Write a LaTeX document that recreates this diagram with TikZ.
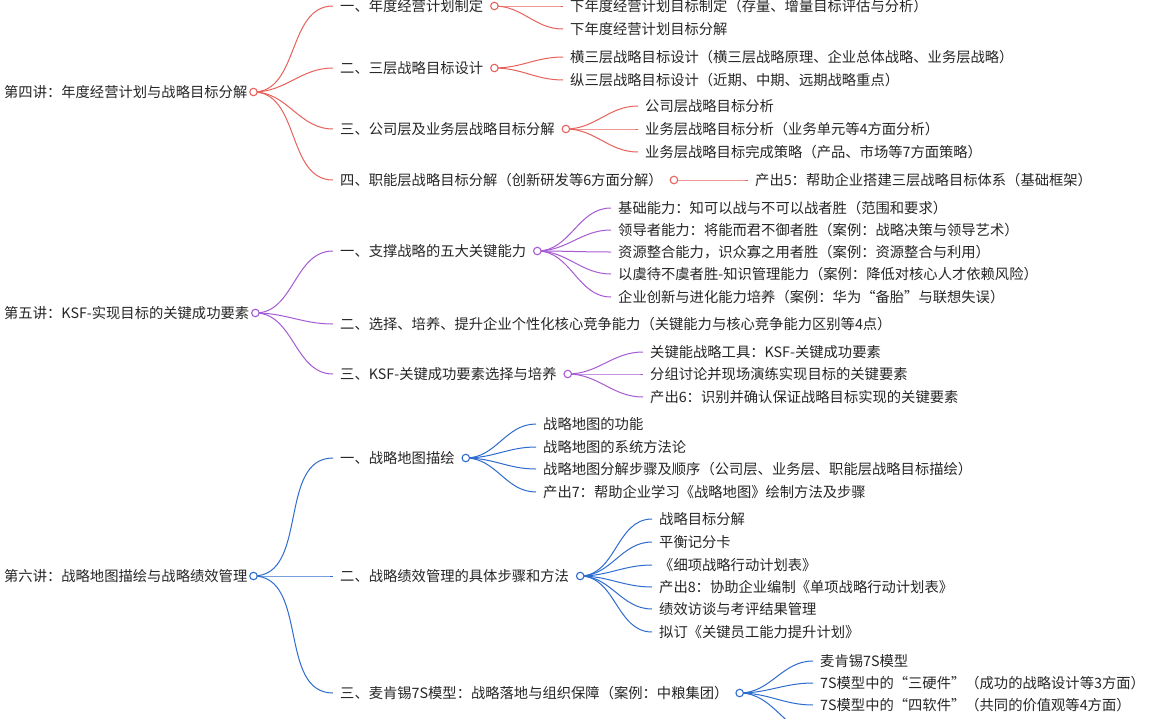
\documentclass[tikz,border=0pt]{standalone}
\usepackage{fontspec}
\setmainfont{Noto Sans CJK SC}
\begin{document}
\begin{tikzpicture}[x=1pt,y=-1pt,
  txt/.style={anchor=west,inner xsep=7pt,inner ysep=1pt,font=\fontsize{14.3pt}{15pt}\selectfont,text=black!85},
  dot/.style={circle,draw,line width=1.1pt,fill=white,inner sep=0pt,minimum size=7.5pt},
  ln/.style={line width=1pt}]
\definecolor{cr}{HTML}{E8625C}
\definecolor{cp}{HTML}{A65BD2}
\definecolor{cb}{HTML}{2F6CD0}
\clip (0,0) rectangle (1159,718);
\fill[white] (0,0) rectangle (1159,718);
\newcommand\E[3]{\draw[ln,#1] ([xshift=4pt]#2.east) to[out=0,in=180] (#3.west);}
\newcommand\D[2]{\node[dot,draw=#1] at ([xshift=4pt]#2.east) {};}
% ===== red
\node[txt,inner xsep=2pt] (r) at (2,92) {第四讲：年度经营计划与战略目标分解};
\node[txt] (r1) at (333,6) {一、年度经营计划制定};
\node[txt] (r2) at (333,68) {二、三层战略目标设计};
\node[txt] (r3) at (333,129) {三、公司层及业务层战略目标分解};
\node[txt] (r4) at (333,180) {四、职能层战略目标分解（创新研发等6方面分解）};
\node[txt] (r11) at (563,6) {下年度经营计划目标制定（存量、增量目标评估与分析）};
\node[txt] (r12) at (563,29) {下年度经营计划目标分解};
\node[txt] (r21) at (563,57) {横三层战略目标设计（横三层战略原理、企业总体战略、业务层战略）};
\node[txt] (r22) at (563,80) {纵三层战略目标设计（近期、中期、远期战略重点）};
\node[txt] (r31) at (638,106) {公司层战略目标分析};
\node[txt] (r32) at (638,129) {业务层战略目标分析（业务单元等4方面分析）};
\node[txt] (r33) at (638,152) {业务层战略目标完成策略（产品、市场等7方面策略）};
\node[txt] (r41) at (748,180) {产出5：帮助企业搭建三层战略目标体系（基础框架）};
\foreach \a in {r1,r2,r3,r4} {\E{cr}{r}{\a}}
\E{cr}{r1}{r11}\E{cr}{r1}{r12}\E{cr}{r2}{r21}\E{cr}{r2}{r22}
\E{cr}{r3}{r31}\E{cr}{r3}{r32}\E{cr}{r3}{r33}\E{cr}{r4}{r41}
\foreach \a in {r,r1,r2,r3,r4} {\D{cr}{\a}}
% ===== purple
\node[txt,inner xsep=2pt] (p) at (2,313) {第五讲：KSF-实现目标的关键成功要素};
\node[txt] (p1) at (333,251) {一、支撑战略的五大关键能力};
\node[txt] (p2) at (333,324) {二、选择、培养、提升企业个性化核心竞争能力（关键能力与核心竞争能力区别等4点）};
\node[txt] (p3) at (333,374) {三、KSF-关键成功要素选择与培养};
\node[txt] (p11) at (611,208) {基础能力：知可以战与不可以战者胜（范围和要求）};
\node[txt] (p12) at (611,230) {领导者能力：将能而君不御者胜（案例：战略决策与领导艺术）};
\node[txt] (p13) at (611,252) {资源整合能力，识众寡之用者胜（案例：资源整合与利用）};
\node[txt] (p14) at (611,274) {以虞待不虞者胜-知识管理能力（案例：降低对核心人才依赖风险）};
\node[txt] (p15) at (611,297) {企业创新与进化能力培养（案例：华为“备胎”与联想失误）};
\node[txt] (p31) at (643,352) {关键能战略工具：KSF-关键成功要素};
\node[txt] (p32) at (643,374) {分组讨论并现场演练实现目标的关键要素};
\node[txt] (p33) at (643,397) {产出6：识别并确认保证战略目标实现的关键要素};
\foreach \a in {p1,p2,p3} {\E{cp}{p}{\a}}
\foreach \a in {p11,p12,p13,p14,p15} {\E{cp}{p1}{\a}}
\foreach \a in {p31,p32,p33} {\E{cp}{p3}{\a}}
\foreach \a in {p,p1,p3} {\D{cp}{\a}}
% ===== blue
\node[txt,inner xsep=2pt] (b) at (2,576) {第六讲：战略地图描绘与战略绩效管理};
\node[txt] (b1) at (333,458) {一、战略地图描绘};
\node[txt] (b2) at (333,576) {二、战略绩效管理的具体步骤和方法};
\node[txt] (b3) at (333,693) {三、麦肯锡7S模型：战略落地与组织保障（案例：中粮集团）};
\node[txt] (b11) at (536,424) {战略地图的功能};
\node[txt] (b12) at (536,447) {战略地图的系统方法论};
\node[txt] (b13) at (536,469) {战略地图分解步骤及顺序（公司层、业务层、职能层战略目标描绘）};
\node[txt] (b14) at (536,492) {产出7：帮助企业学习《战略地图》绘制方法及步骤};
\node[txt] (b21) at (652,519) {战略目标分解};
\node[txt] (b22) at (652,542) {平衡记分卡};
\node[txt] (b23) at (652,565) {《细项战略行动计划表》};
\node[txt] (b24) at (652,587) {产出8：协助企业编制《单项战略行动计划表》};
\node[txt] (b25) at (652,609) {绩效访谈与考评结果管理};
\node[txt] (b26) at (652,632) {拟订《关键员工能力提升计划》};
\node[txt] (b31) at (813,661) {麦肯锡7S模型};
\node[txt] (b32) at (813,683) {7S模型中的“三硬件”（成功的战略设计等3方面）};
\node[txt] (b33) at (813,705) {7S模型中的“四软件”（共同的价值观等4方面）};
\coordinate (b34) at (820,735);
\foreach \a in {b1,b2,b3} {\E{cb}{b}{\a}}
\foreach \a in {b11,b12,b13,b14} {\E{cb}{b1}{\a}}
\foreach \a in {b21,b22,b23,b24,b25,b26} {\E{cb}{b2}{\a}}
\foreach \a in {b31,b32,b33} {\E{cb}{b3}{\a}}
\draw[ln,cb] ([xshift=4pt]b3.east) to[out=0,in=180] (b34);
\foreach \a in {b,b1,b2,b3} {\D{cb}{\a}}
\end{tikzpicture}
\end{document}
